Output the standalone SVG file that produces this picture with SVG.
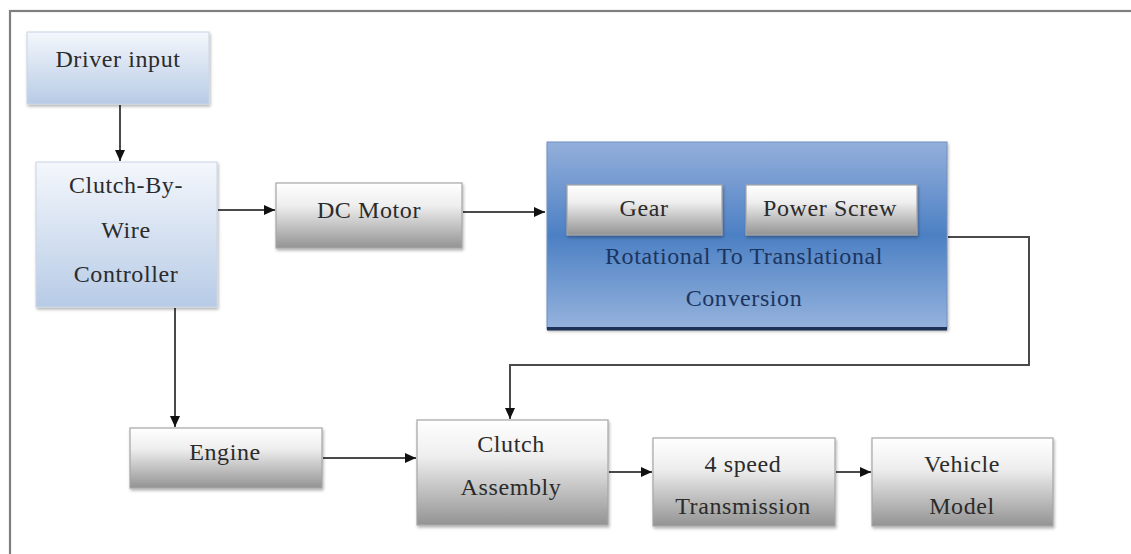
<svg xmlns="http://www.w3.org/2000/svg" width="1131" height="554" viewBox="0 0 1131 554">
<defs>
<linearGradient id="gGray" x1="0" y1="0" x2="0" y2="1">
<stop offset="0" stop-color="#ffffff"/>
<stop offset="0.35" stop-color="#eeeeee"/>
<stop offset="1" stop-color="#939393"/>
</linearGradient>
<linearGradient id="gLight" x1="0" y1="0" x2="0" y2="1">
<stop offset="0" stop-color="#f4f7fc"/>
<stop offset="1" stop-color="#b7cbe6"/>
</linearGradient>
<linearGradient id="gBlue" x1="0" y1="0" x2="0" y2="1">
<stop offset="0" stop-color="#94afdb"/>
<stop offset="0.5" stop-color="#4c80c4"/>
<stop offset="1" stop-color="#96b3dd"/>
</linearGradient>
<filter id="sh" x="-10%" y="-10%" width="125%" height="130%">
<feDropShadow dx="1" dy="2" stdDeviation="1.5" flood-color="#000" flood-opacity="0.3"/>
</filter>
<marker id="ah" markerWidth="12" markerHeight="12" refX="11" refY="6" orient="auto" markerUnits="userSpaceOnUse">
<path d="M0,1 L11,6 L0,11 z" fill="#111"/>
</marker>
<style>
.gray{fill:url(#gGray);stroke:#a6a6a6;stroke-width:1.2;filter:url(#sh)}
.light{fill:url(#gLight);stroke:#c9d4e4;stroke-width:1;filter:url(#sh)}
.t{font-family:"Liberation Serif","Times New Roman",serif;font-size:24px;letter-spacing:0.6px;fill:#2b2b2b;text-anchor:middle}
.tb{font-family:"Liberation Serif","Times New Roman",serif;font-size:24px;letter-spacing:0.6px;fill:#1a3560;text-anchor:middle}
.c{fill:none;stroke:#4a4a4a;stroke-width:2}
</style>
</defs>
<rect x="0" y="0" width="1131" height="554" fill="#ffffff"/>
<rect x="10" y="11" width="1140" height="560" fill="none" stroke="#7f7f7f" stroke-width="2.2"/>

<g id="connectors">
<line class="c" x1="120" y1="105" x2="120" y2="161" marker-end="url(#ah)"/>
<line class="c" x1="218" y1="210" x2="275" y2="210" marker-end="url(#ah)"/>
<line class="c" x1="463" y1="212" x2="545" y2="212" marker-end="url(#ah)"/>
<polyline class="c" points="948,237 1029,237 1029,365 510,365 510,419" marker-end="url(#ah)"/>
<line class="c" x1="175" y1="308" x2="175" y2="427" marker-end="url(#ah)"/>
<line class="c" x1="323" y1="458" x2="416" y2="458" marker-end="url(#ah)"/>
<line class="c" x1="609" y1="472" x2="652" y2="472" marker-end="url(#ah)"/>
<line class="c" x1="836" y1="472" x2="871" y2="472" marker-end="url(#ah)"/>
</g>

<g id="driver-input">
<rect class="light" x="27" y="32" width="182" height="72"/>
<text class="t" x="118" y="67">Driver input</text>
</g>

<g id="cbw-controller">
<rect class="light" x="36" y="162" width="181" height="145"/>
<text class="t" x="126" y="193">Clutch-By-</text>
<text class="t" x="126" y="238">Wire</text>
<text class="t" x="126" y="282">Controller</text>
</g>

<g id="dc-motor">
<rect class="gray" x="276" y="183" width="186" height="65"/>
<text class="t" x="369" y="218">DC Motor</text>
</g>

<g id="conversion">
<rect x="547" y="142" width="400" height="187" fill="url(#gBlue)" stroke="#6f8fc0" stroke-width="1" filter="url(#sh)"/>
<rect x="547" y="327" width="400" height="3.5" fill="#1f3358"/>
<text class="tb" x="744" y="264">Rotational To Translational</text>
<text class="tb" x="744" y="306">Conversion</text>
</g>

<g id="gear">
<rect class="gray" x="567" y="185" width="155" height="50"/>
<text class="t" x="644" y="216">Gear</text>
</g>

<g id="power-screw">
<rect class="gray" x="746" y="185" width="171" height="50"/>
<text class="t" x="830" y="216">Power Screw</text>
</g>

<g id="engine">
<rect class="gray" x="130" y="428" width="192" height="60"/>
<text class="t" x="225" y="460">Engine</text>
</g>

<g id="clutch-assembly">
<rect class="gray" x="417" y="420" width="191" height="105"/>
<text class="t" x="511" y="452">Clutch</text>
<text class="t" x="511" y="495">Assembly</text>
</g>

<g id="transmission">
<rect class="gray" x="653" y="438" width="182" height="88"/>
<text class="t" x="743" y="472">4 speed</text>
<text class="t" x="743" y="514">Transmission</text>
</g>

<g id="vehicle-model">
<rect class="gray" x="872" y="438" width="181" height="88"/>
<text class="t" x="962" y="472">Vehicle</text>
<text class="t" x="962" y="514">Model</text>
</g>
</svg>
